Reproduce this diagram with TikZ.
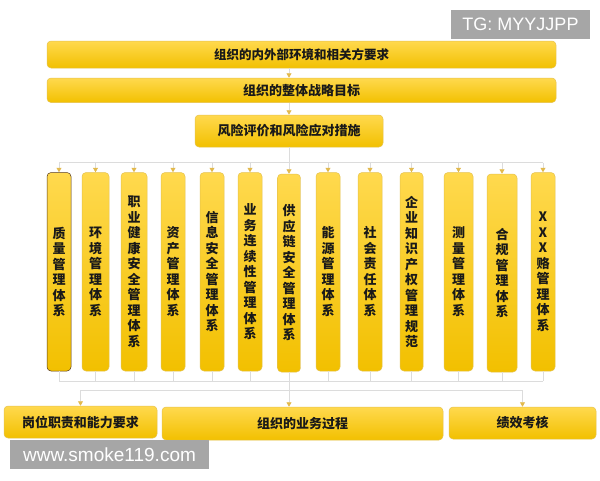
\documentclass[tikz,border=0pt]{standalone}
\usepackage{fontspec}
\newfontfamily\cjk{Noto Sans CJK SC}[BoldFont={Noto Sans CJK SC Black}]
\newfontfamily\wmfont{Liberation Sans}
\usetikzlibrary{arrows.meta}
\definecolor{boxtop}{HTML}{FFD94E}
\definecolor{boxbot}{HTML}{F2C000}
\definecolor{boxedge}{HTML}{E6C24E}
\definecolor{linec}{HTML}{DCDCDC}
\definecolor{tipc}{HTML}{E2B94C}
\definecolor{wmgray}{HTML}{A6A6A6}
\tikzset{
  ybox/.style={rectangle, rounded corners=4pt, draw=boxedge, line width=0.5pt,
    top color=boxtop, bottom color=boxbot, inner sep=0pt, text=black!90,
    font=\cjk\bfseries\fontsize{13}{15.5}\selectfont, align=center},
  colbox/.style={ybox},
  conn/.style={draw=linec, line width=0.8pt},
  arr/.style={conn, -{Triangle[width=5pt,length=4.5pt,color=tipc]}},
  wm/.style={fill=wmgray, text=white, inner sep=0pt, font=\wmfont}
}
\begin{document}
\begin{tikzpicture}[x=1pt,y=-1pt]
\useasboundingbox[fill=white] (0,0) rectangle (600,480);

% watermarks
\node[wm, minimum width=139pt, minimum height=29pt, font=\wmfont\fontsize{18}{18}\selectfont] (tg) at (520.5,24.5) {TG: MYYJJPP};

% top boxes
\node[ybox, minimum width=509pt, minimum height=27pt, font=\cjk\bfseries\fontsize{12.5}{15}\selectfont] (b1) at (301.5,54.5) {组织的内外部环境和相关方要求};
\node[ybox, minimum width=509pt, minimum height=24.5pt] (b2) at (301.5,90.25) {组织的整体战略目标};
\node[ybox, minimum width=188pt, minimum height=32pt] (b3) at (289,131) {风险评价和风险应对措施};

% columns
\node[colbox, draw=black!55!brown, minimum width=24pt, minimum height=198.5pt] (c1) at (59,271.75) {质\\量\\管\\理\\体\\系};
\node[colbox, minimum width=27pt, minimum height=198.5pt] (c2) at (95.5,271.75) {环\\境\\管\\理\\体\\系};
\node[colbox, minimum width=26pt, minimum height=198.5pt] (c3) at (134,271.75) {职\\业\\健\\康\\安\\全\\管\\理\\体\\系};
\node[colbox, minimum width=24pt, minimum height=198.5pt] (c4) at (173,271.75) {资\\产\\管\\理\\体\\系};
\node[colbox, minimum width=24pt, minimum height=198.5pt] (c5) at (212,271.75) {信\\息\\安\\全\\管\\理\\体\\系};
\node[colbox, minimum width=24pt, minimum height=198.5pt] (c6) at (250,271.75) {业\\务\\连\\续\\性\\管\\理\\体\\系};
\node[colbox, minimum width=23pt, minimum height=198pt] (c7) at (289,273) {供\\应\\链\\安\\全\\管\\理\\体\\系};
\node[colbox, minimum width=24pt, minimum height=198.5pt] (c8) at (328,271.75) {能\\源\\管\\理\\体\\系};
\node[colbox, minimum width=24pt, minimum height=198.5pt] (c9) at (370,271.75) {社\\会\\责\\任\\体\\系};
\node[colbox, minimum width=23pt, minimum height=198.5pt] (c10) at (411.5,271.75) {企\\业\\知\\识\\产\\权\\管\\理\\规\\范};
\node[colbox, minimum width=29pt, minimum height=198.5pt] (c11) at (458.5,271.75) {测\\量\\管\\理\\体\\系};
\node[colbox, minimum width=30pt, minimum height=198pt] (c12) at (502,273) {合\\规\\管\\理\\体\\系};
\node[colbox, minimum width=24pt, minimum height=198.5pt] (c13) at (543,271.75) {X\\X\\X\\赂\\管\\理\\体\\系};

% bottom boxes
\node[ybox, minimum width=153pt, minimum height=32pt] (d1) at (80.5,422) {岗位职责和能力要求};
\node[ybox, minimum width=281pt, minimum height=33pt] (d2) at (302.5,423.5) {组织的业务过程};
\node[ybox, minimum width=147pt, minimum height=32pt] (d3) at (522.5,423) {绩效考核};

\node[wm, minimum width=199pt, minimum height=29pt, font=\wmfont\fontsize{19}{19}\selectfont] (www) at (109.5,454.5) {www.smoke119.com};

% bus coordinates
\coordinate (busT) at (289,162.7);
\coordinate (busB) at (289,381);
\coordinate (busC) at (289,390);

% top connectors
\draw[arr] (b1.south -| b3.north) -- (b2.north -| b3.north);
\draw[arr] (b2.south -| b3.north) -- (b3.north);
\draw[conn] (b3.south) -- (busT);
\draw[conn] (busT -| c1.north) -- (busT -| c13.north);
\foreach \c in {c1,c2,c3,c4,c5,c6,c7,c8,c9,c10,c11,c12,c13}{
  \draw[arr] (busT -| \c.north) -- (\c.north);
  \draw[conn] (\c.south) -- (busB -| \c.south);
}
\draw[conn] (busB -| c1.south) -- (busB -| c13.south);
\draw[conn] (busB) -- (busC);
\draw[conn] (busC -| d1.north) -- (busC -| d3.north);
\draw[arr] (busC -| d1.north) -- (d1.north);
\draw[arr] (busC) -- (busC |- d2.north);
\draw[arr] (busC -| d3.north) -- (d3.north);
\end{tikzpicture}
\end{document}
